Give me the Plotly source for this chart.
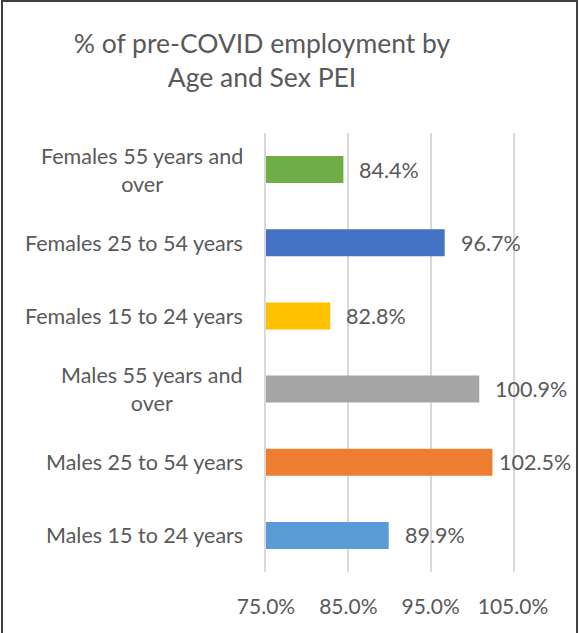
import plotly.graph_objects as go

categories = ["Males 15 to 24 years", "Males 25 to 54 years", "Males 55 years and over",
              "Females 15 to 24 years", "Females 25 to 54 years", "Females 55 years and over"]
label_text = ["Males 15 to 24 years", "Males 25 to 54 years", "Males 55 years and<br>over",
              "Females 15 to 24 years", "Females 25 to 54 years", "Females 55 years and<br>over"]
values = [89.9, 102.5, 100.9, 82.8, 96.7, 84.4]
colors = ["#5B9BD5", "#ED7D31", "#A5A5A5", "#FFC000", "#4472C4", "#70AD47"]
tick_vals = [75, 85, 95, 105]
tick_text = ["75.0%", "85.0%", "95.0%", "105.0%"]

FONT = "Lato"
GREY = "#595959"

W, H = 579, 633
L, R, T, B = 266, 66, 133, 61
pw, ph = W - L - R, H - T - B

fig = go.Figure()
fig.add_trace(go.Bar(
    y=categories, x=values, orientation="h",
    marker=dict(color=colors, line=dict(width=0)),
    width=0.37, showlegend=False, hoverinfo="skip",
))

# data labels
for c, v in zip(categories, values):
    fig.add_annotation(x=v, y=c, xref="x", yref="y", text=f"{v:.1f}%",
                       showarrow=False, xanchor="left", xshift=(5 if v > 102 else 14),
                       font=dict(family=FONT, size=21.5, color=GREY))

# category labels (centered multi-line, like the original)
for c, t in zip(categories, label_text):
    fig.add_annotation(x=0, y=c, xref="paper", yref="y", text=t, showarrow=False,
                       xanchor="right", align="center", xshift=-21,
                       font=dict(family=FONT, size=21.5, color=GREY))

# outer border
def px_x(p):
    return (p - L) / pw
def px_y(p):
    return (H - B - p) / ph

fig.add_shape(type="path", xref="paper", yref="paper",
              path=f"M {px_x(2)} {px_y(H+5)} L {px_x(2)} {px_y(1)} L {px_x(577)} {px_y(1)} L {px_x(577)} {px_y(H+5)}",
              line=dict(color="#404040", width=2))

fig.update_layout(
    width=W, height=H,
    margin=dict(l=L, r=R, t=T, b=B),
    paper_bgcolor="white", plot_bgcolor="white",
    title=dict(text="% of pre-COVID employment by<br>Age and Sex PEI", x=262 / W, xanchor="center",
               y=1 - 53 / H, yanchor="middle",
               font=dict(family=FONT, size=26.5, color=GREY)),
    xaxis=dict(range=[75, 105], tickvals=tick_vals, ticktext=tick_text,
               showgrid=True, gridcolor="#D9D9D9", gridwidth=1.5, zeroline=False,
               showline=False, ticks="outside", ticklen=16, tickcolor="rgba(0,0,0,0)",
               tickfont=dict(family=FONT, size=21, color=GREY)),
    yaxis=dict(categoryorder="array", categoryarray=categories, showticklabels=False,
               showgrid=False, zeroline=False, showline=True, mirror=True,
               linecolor="#D9D9D9", linewidth=1.5),
    bargap=0.63,
)
fig.write_html("out.html", config={"displayModeBar": False},
               post_script="document.body.style.margin='0';")
